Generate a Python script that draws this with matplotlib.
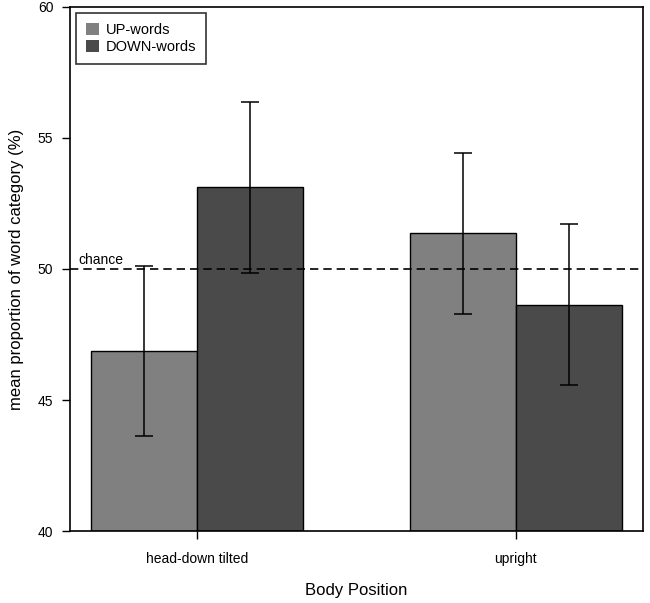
import matplotlib.pyplot as plt
import numpy as np

plt.rcParams['font.family'] = ['Liberation Sans', 'DejaVu Sans']

positions = ['head-down tilted', 'upright']
series = ['UP-words', 'DOWN-words']
up_mean = [46.86, 51.36]
down_mean = [53.12, 48.64]
up_err = [3.25, 3.06]
down_err = [3.27, 3.06]
chance = 50

colors = ['#808080', '#4a4a4a']

fig = plt.figure(figsize=(6.5, 6.03), dpi=100)
ax = fig.add_axes([0.1077, 0.1194, 0.8815, 0.869])

centers = np.array([2, 5])
ax.bar(centers - 0.5, np.array(up_mean) - 40, width=1, bottom=40, color=colors[0],
       edgecolor='black', linewidth=1, label=series[0], zorder=2)
ax.bar(centers + 0.5, np.array(down_mean) - 40, width=1, bottom=40, color=colors[1],
       edgecolor='black', linewidth=1, label=series[1], zorder=2)
ax.errorbar(centers - 0.5, up_mean, yerr=up_err, fmt='none', ecolor='black',
            elinewidth=1.1, capsize=6.5, capthick=1.1, zorder=3)
ax.errorbar(centers + 0.5, down_mean, yerr=down_err, fmt='none', ecolor='black',
            elinewidth=1.1, capsize=6.5, capthick=1.1, zorder=3)

ax.axhline(chance, color='black', linestyle=(0, (5, 3)), linewidth=1.2, zorder=4)
ax.text(0.88, chance + 0.08, 'chance', fontsize=10, ha='left', va='bottom')

ax.set_xlim(0.8, 6.2)
ax.set_ylim(40, 60)
ax.set_yticks([40, 45, 50, 55, 60])
ax.set_xticks(centers)
ax.set_xticklabels(positions)
ax.tick_params(axis='both', labelsize=10, length=6, width=1, color='black')
ax.tick_params(axis='x', pad=9)
ax.tick_params(axis='y', pad=6)
for s in ax.spines.values():
    s.set_linewidth(1.2)

ax.set_xlabel('Body Position', fontsize=12, labelpad=12)
ax.set_ylabel('mean proportion of word category (%)', fontsize=12, labelpad=10)

leg = ax.legend(loc='upper left', fontsize=10.5, frameon=True, fancybox=False,
                edgecolor='black', handlelength=0.9, handleheight=0.9,
                handletextpad=0.45, borderaxespad=0.4, labelspacing=0.2,
                borderpad=0.7)
leg.get_frame().set_linewidth(1.2)
for h in leg.legend_handles:
    h.set_edgecolor('none')

fig.savefig('out.png', dpi=100)
